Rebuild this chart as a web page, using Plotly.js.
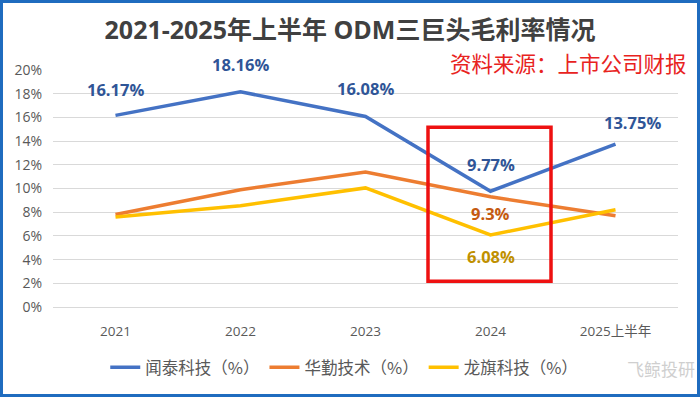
<!DOCTYPE html>
<html>
<head>
<meta charset="utf-8">
<script src="https://cdn.plot.ly/plotly-3.0.1.min.js"></script>
<style>
html,body{margin:0;padding:0;background:#fff;}
#wrap{position:relative;width:700px;height:397px;}
#chart{width:700px;height:397px;}
#frame{position:absolute;left:0;top:0;width:700px;height:397px;box-sizing:border-box;border:3px solid #1f6cbf;pointer-events:none;}
</style>
</head>
<body>
<div id="wrap"><div id="chart"></div><div id="frame"></div></div>
<script>
const categories = ['2021', '2022', '2023', '2024', '2025上半年'];
const wingtech = [16.17, 18.16, 16.08, 9.77, 13.75];
const huaqin = [7.8, 9.9, 11.4, 9.3, 7.7];
const longcheer = [7.6, 8.55, 10.05, 6.08, 8.2];
const seriesNames = ['闻泰科技（%）', '华勤技术（%）', '龙旗科技（%）'];
const yTicks = [0, 2, 4, 6, 8, 10, 12, 14, 16, 18, 20];

const FONT = 'Open Sans, Noto Sans CJK SC, sans-serif';
const colors = ['#4472C4', '#ED7D31', '#FFC000'];
const xIdx = categories.map((c, i) => i);

const traces = [wingtech, huaqin, longcheer].map((vals, i) => ({
  type: 'scatter', mode: 'lines', x: xIdx, y: vals, name: seriesNames[i],
  line: {color: colors[i], width: 3.5}, hoverinfo: 'skip'
}));

function lbl(x, y, color, yshift, xshift) {
  return {x: x, y: y, xref: 'x', yref: 'y', text: y + '%', showarrow: false,
    yshift: yshift, xshift: xshift || 0,
    font: {family: FONT, size: 16.5, color: color, weight: 'bold'}};
}

const annotations = [];
const blueShifts = [26, 27, 28, 27, 22];
wingtech.forEach((v, i) => annotations.push(lbl(xIdx[i], v, '#2F5597', blueShifts[i], i === 4 ? 17 : 0)));
annotations.push(lbl(xIdx[3], huaqin[3], '#C55A11', -17));
annotations.push(lbl(xIdx[3], longcheer[3], '#BF9000', -22));
annotations.push({xref: 'paper', yref: 'paper', x: 1.018, y: 1.033, xanchor: 'right', yanchor: 'middle',
  text: '资料来源：上市公司财报', showarrow: false,
  font: {family: 'Noto Sans CJK SC, sans-serif', size: 21.5, color: '#E8231E'}});
annotations.push({xref: 'paper', yref: 'paper', x: 1.03, y: -0.26, xanchor: 'right', yanchor: 'middle',
  text: '飞鲸投研', showarrow: false,
  font: {family: 'Noto Sans CJK SC, sans-serif', size: 17, color: '#cfcfcf'}});

const layout = {
  width: 700, height: 397,
  margin: {l: 53, r: 22, t: 70, b: 87},
  paper_bgcolor: '#fff', plot_bgcolor: '#fff',
  font: {family: FONT, color: '#595959'},
  title: {text: '<b>2021-2025年上半年 ODM三巨头毛利率情况</b>', x: 0.5, xanchor: 'center',
    y: 1 - 30/397, yanchor: 'middle', yref: 'container',
    font: {family: FONT, size: 25, color: '#404040'}},
  xaxis: {range: [-0.5, 4.5], tickvals: xIdx, ticktext: categories, showgrid: false, showline: false,
    zeroline: false, ticks: '', ticklabelstandoff: 14,
    tickfont: {family: FONT, size: 13.5, color: '#595959'}, fixedrange: true},
  yaxis: {range: [0, 20], tickvals: yTicks, ticktext: yTicks.map(v => v + '%'),
    showgrid: true, gridcolor: '#D9D9D9', gridwidth: 1, zeroline: true, zerolinecolor: '#D9D9D9',
    zerolinewidth: 1, showline: false, ticks: '', ticklabelstandoff: 10,
    tickfont: {family: FONT, size: 14, color: '#595959'}, fixedrange: true},
  showlegend: true,
  legend: {orientation: 'h', x: 0.466, xanchor: 'center', y: -0.255, yanchor: 'middle',
    font: {family: 'Noto Sans CJK SC, sans-serif', size: 16.5, color: '#595959'}},
  annotations: annotations,
  shapes: [{type: 'rect', xref: 'paper', yref: 'paper',
    x0: (428-53)/625, x1: (551-53)/625, y0: (310-284)/240, y1: (310-128)/240,
    line: {color: '#EE1111', width: 3.5}}]
};

Plotly.newPlot('chart', traces, layout, {displayModeBar: false, staticPlot: true});
</script>
</body>
</html>
